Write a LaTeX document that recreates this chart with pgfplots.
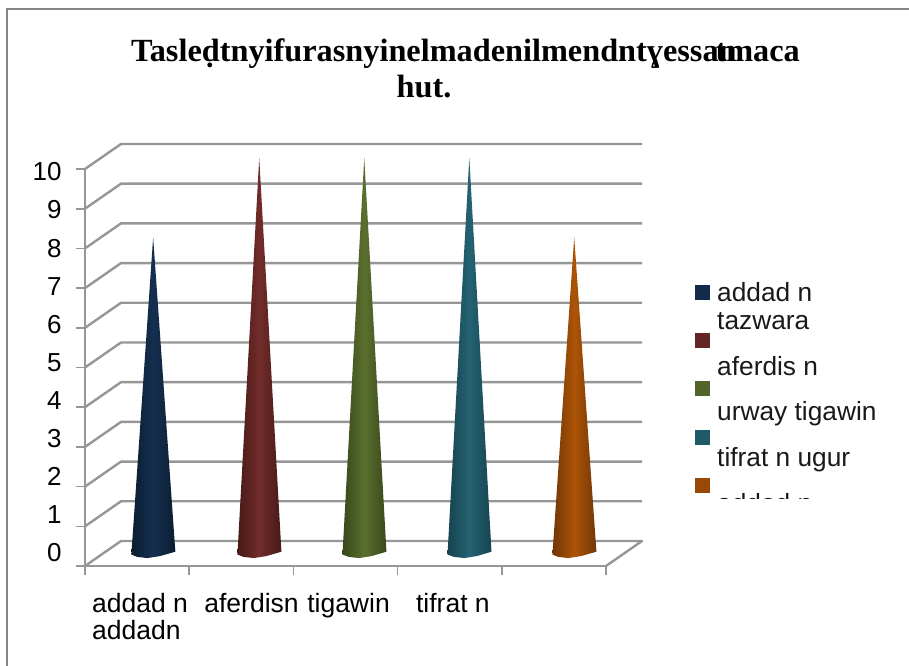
\documentclass[border=0pt]{standalone}
\usepackage{pgfplots}
\pgfplotsset{compat=1.18}
\usepackage{fontspec}
\setmainfont{Liberation Sans}
\newfontfamily\titlefont{Liberation Serif}
\definecolor{gridc}{HTML}{969696}
\definecolor{framec}{HTML}{868686}
\definecolor{navyA}{HTML}{0B1C30}\definecolor{navyB}{HTML}{152F50}
\definecolor{redA}{HTML}{461A18}\definecolor{redB}{HTML}{722C2A}
\definecolor{grnA}{HTML}{39471C}\definecolor{grnB}{HTML}{5B702E}
\definecolor{tealA}{HTML}{174450}\definecolor{tealB}{HTML}{246272}
\definecolor{orgA}{HTML}{703605}\definecolor{orgB}{HTML}{AE5408}
\begin{document}
\begin{tikzpicture}[x=1pt,y=1pt]
\useasboundingbox (0,0) rectangle (909,665);
\draw[framec,line width=1.6pt] (7,-5) -- (7,656) -- (915,656);
\begin{axis}[
  at={(85pt,99pt)},anchor=south west,
  scale only axis,width=521pt,height=397pt,
  xmin=0,xmax=5,ymin=0,ymax=10,clip=false,
  axis x line=bottom,axis y line=left,
  axis line style={gridc,line width=2.4pt,-},
  tick style={gridc,line width=1.6pt},
  major tick length=9pt,
  xtick={0,1,2,3,4,5},xticklabels={},
  ytick={0,1,2,3,4,5,6,7,8,9,10},yticklabels={},
  tick align=outside,
  /pgf/number format/assume math mode=true,
  extra y ticks={0.327,1.287,2.247,3.207,4.167,5.127,6.087,7.047,8.007,8.967,9.927},
  extra y tick labels={0,1,2,3,4,5,6,7,8,9,10},
  extra y tick style={major tick length=0pt,
    ticklabel style={font=\fontsize{26}{26}\selectfont,anchor=east,xshift=-20pt}},
  extra x ticks={0.528,1.598,2.529,3.531},
  extra x tick labels={{addad n\\addadn},{aferdisn},{tigawin},{tifrat n}},
  extra x tick style={major tick length=0pt,
    ticklabel style={font=\fontsize{26.5}{27}\selectfont,align=left,anchor=north,yshift=-24pt}},
]
% walls and floor
\addplot[gridc,line width=2.4pt,line join=round] coordinates {(0,0)(0.3455,0.63)(5.3455,0.63)(5,0)};
\addplot[gridc,line width=2.4pt] coordinates {(0,1)(0.3455,1.63)(5.3455,1.63)};
\addplot[gridc,line width=2.4pt] coordinates {(0,2)(0.3455,2.63)(5.3455,2.63)};
\addplot[gridc,line width=2.4pt] coordinates {(0,3)(0.3455,3.63)(5.3455,3.63)};
\addplot[gridc,line width=2.4pt] coordinates {(0,4)(0.3455,4.63)(5.3455,4.63)};
\addplot[gridc,line width=2.4pt] coordinates {(0,5)(0.3455,5.63)(5.3455,5.63)};
\addplot[gridc,line width=2.4pt] coordinates {(0,6)(0.3455,6.63)(5.3455,6.63)};
\addplot[gridc,line width=2.4pt] coordinates {(0,7)(0.3455,7.63)(5.3455,7.63)};
\addplot[gridc,line width=2.4pt] coordinates {(0,8)(0.3455,8.63)(5.3455,8.63)};
\addplot[gridc,line width=2.4pt] coordinates {(0,9)(0.3455,9.63)(5.3455,9.63)};
\addplot[gridc,line width=2.4pt] coordinates {(0,10)(0.3455,10.63)(5.3455,10.63)};
% cones: value + depth offset 0.33
\addplot[draw=none,left color=navyA,right color=navyA,middle color=navyB] coordinates {(0.654,8.28)(0.445,0.29)(0.50,0.23)(0.60,0.20)(0.72,0.25)(0.867,0.36)};
\addplot[draw=none,left color=redA,right color=redA,middle color=redB] coordinates {(1.672,10.28)(1.463,0.29)(1.52,0.23)(1.62,0.20)(1.74,0.25)(1.885,0.36)};
\addplot[draw=none,left color=grnA,right color=grnA,middle color=grnB] coordinates {(2.680,10.28)(2.471,0.29)(2.53,0.23)(2.63,0.20)(2.75,0.25)(2.893,0.36)};
\addplot[draw=none,left color=tealA,right color=tealA,middle color=tealB] coordinates {(3.688,10.28)(3.479,0.29)(3.54,0.23)(3.64,0.20)(3.76,0.25)(3.901,0.36)};
\addplot[draw=none,left color=orgA,right color=orgA,middle color=orgB] coordinates {(4.695,8.28)(4.486,0.29)(4.54,0.23)(4.64,0.20)(4.76,0.25)(4.908,0.36)};
\end{axis}
% title
\node[anchor=base west,inner sep=0,font=\titlefont\bfseries\fontsize{32.3}{32}\selectfont] at (131,603) {Tasleḍtnyifurasnyinelmadenilmendntɣessan};
\node[anchor=base east,inner sep=0,font=\titlefont\bfseries\fontsize{32.3}{32}\selectfont] at (800,603) {tmaca};
\node[anchor=base,inner sep=0,font=\titlefont\bfseries\fontsize{32.3}{32}\selectfont] at (424,567) {hut.};
% legend
\fill[navyB!80!navyA] (695,365) rectangle (710,380);
\fill[redA!35!redB] (695,317) rectangle (710,332);
\fill[grnB!70!grnA] (695,269) rectangle (710,284);
\fill[tealB!70!tealA] (695,220) rectangle (710,235);
\fill[orgB!65!orgA] (695,172) rectangle (710,187);
\begin{scope}[every node/.style={anchor=base west,inner sep=0,font=\fontsize{26.3}{26}\selectfont,text=black!90}]
\node at (717,364) {addad n};
\node at (717,336) {tazwara};
\node at (717,290) {aferdis n};
\node at (717,245) {urway tigawin};
\node at (717,199) {tifrat n ugur};
\begin{scope}
\clip (700,167) rectangle (860,185);
\node at (717,153) {addad n};
\end{scope}
\end{scope}
\end{tikzpicture}
\end{document}
